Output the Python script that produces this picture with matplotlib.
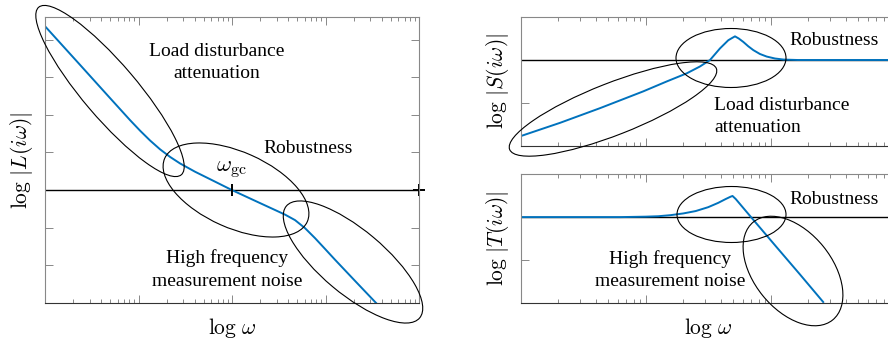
import matplotlib
matplotlib.use('Agg')
import matplotlib.pyplot as plt
from matplotlib.patches import Ellipse

plt.rcParams['font.family'] = ['Liberation Serif', 'DejaVu Serif']
plt.rcParams['mathtext.fontset'] = 'cm'

# loop transfer function L (omega, log|L|)
w_L = [0.01, 0.0237, 0.0495, 0.0811, 0.1038, 0.1327, 0.1698, 0.2173, 0.278,
       0.402, 0.627, 1.0, 1.991, 3.69, 4.72, 6.04, 7.73, 9.89, 12.65, 21.2, 35.6]
logL = [4.355, 3.328, 2.448, 1.861, 1.581, 1.320, 1.085, 0.883, 0.709,
        0.489, 0.251, 0.0, -0.344, -0.651, -0.797, -1.011, -1.277, -1.563,
        -1.851, -2.440, -3.027]

# sensitivity S
w_S = [0.01, 0.0207, 0.0431, 0.0955, 0.147, 0.213, 0.272, 0.327, 0.393, 0.458,
       0.49, 0.518, 0.555, 0.604, 0.661, 0.726, 0.820, 0.929, 1.081, 1.27,
       1.64, 10.0]
logS = [-1.77, -1.46, -1.12, -0.73, -0.50, -0.31, -0.15, 0.0, 0.27, 0.46,
        0.51, 0.55, 0.50, 0.42, 0.32, 0.23, 0.14, 0.08, 0.035, 0.01,
        0.0, 0.0]

# complementary sensitivity T
w_T = [0.01, 0.0631, 0.1, 0.126, 0.158, 0.2, 0.251, 0.316, 0.380, 0.437,
       0.479, 0.495, 0.525, 0.682, 1.117, 1.714, 2.63]
logT = [0.0, 0.0, 0.01, 0.02, 0.045, 0.085, 0.14, 0.23, 0.33, 0.42,
        0.475, 0.49, 0.42, 0.03, -0.70, -1.33, -1.97]

W, H = 888, 341
fig = plt.figure(figsize=(W / 100, H / 100), dpi=100)

def box(x0, x1, top, bottom):
    return [x0 / W, (H - bottom) / H, (x1 - x0) / W, (bottom - top) / H]

axL = fig.add_axes(box(45, 419, 17, 303))
axS = fig.add_axes(box(520.7, 895.7, 17, 146))
axT = fig.add_axes(box(520.7, 895.7, 174, 303.3))

blue = '#0072BD'
for ax in (axL, axS, axT):
    ax.set_xscale('log')
    ax.tick_params(which='both', direction='in', top=True, right=True,
                   labelbottom=False, labelleft=False, color='#888888', width=0.7)
    ax.tick_params(which='major', length=6)
    ax.tick_params(which='minor', length=3)
    for s in ax.spines.values():
        s.set_color('#888888')
        s.set_linewidth(0.8)
    ax.spines['bottom'].set_color('#333333')

# left panel
axL.set_xlim(0.01, 100)
axL.set_ylim(-3.0, 4.6)
axL.set_yticks(range(-2, 5))
axL.plot([0.01, 100], [0, 0], color='black', lw=1)
axL.plot(w_L, logL, color=blue, lw=1.4)
axL.plot([1], [0], marker='|', color='black', ms=8, mew=1.4)
axL.plot([100], [0], marker='+', color='black', ms=9, mew=1.4, clip_on=False)
axL.set_ylabel(r'$\log\,|L(i\omega)|$', fontsize=15.5)
axL.set_xlabel(r'$\log\,\omega$', fontsize=15.5)
axL.yaxis.set_label_coords(-0.0615, 0.5)
axL.xaxis.set_label_coords(0.5, -0.087)

# right panels
for ax, w, v, lab in ((axS, w_S, logS, r'$\log\,|S(i\omega)|$'),
                      (axT, w_T, logT, r'$\log\,|T(i\omega)|$')):
    ax.set_xlim(0.01, 10)
    ax.set_ylim(-2, 1)
    ax.set_yticks([-1, 0])
    ax.plot([0.01, 10], [0, 0], color='black', lw=1)
    ax.plot(w, v, color=blue, lw=1.4)
    ax.set_ylabel(lab, fontsize=15.5)
    ax.yaxis.set_label_coords(-0.063, 0.5)
axT.set_xlabel(r'$\log\,\omega$', fontsize=15.5)
axT.xaxis.set_label_coords(0.5, -0.191)

for ax in (axL, axS, axT):
    ax.yaxis.label.set(ha='center', va='center')
    ax.xaxis.label.set(ha='center', va='center')

# ellipses, in pixels (centre x, centre y from top, width, height, angle)
ellipses = [(110, 91, 220, 54, -49.6), (236, 190, 156, 76, -24),
            (353, 262, 174, 64, -40), (731, 58, 110, 59, 0),
            (613, 109, 222, 52, 21.4), (731.5, 214.5, 109, 56, 0),
            (793, 271, 126, 78, -51)]
for cx, cy, ew, eh, ang in ellipses:
    fig.add_artist(Ellipse((cx / 100, (H - cy) / 100), ew / 100, eh / 100, angle=ang,
                           fill=False, ec='black', lw=0.8,
                           transform=fig.dpi_scale_trans))

def note(x, y, s, ha='center', size=14):
    fig.text(x / W, 1 - y / H, s, ha=ha, va='center', fontsize=size,
             linespacing=1.4, multialignment=ha)

note(217, 62.5, 'Load disturbance\nattenuation')
note(307.7, 148, 'Robustness')
note(231, 170, r'$\omega_{\rm gc}$', size=16.5)
note(226.7, 269.5, 'High frequency\nmeasurement noise')
note(789.3, 40.7, 'Robustness', ha='left')
note(714, 116.7, 'Load disturbance\nattenuation', ha='left')
note(789.3, 199.3, 'Robustness', ha='left')
note(670, 269.7, 'High frequency\nmeasurement noise')

fig.savefig('out.png', dpi=100)
